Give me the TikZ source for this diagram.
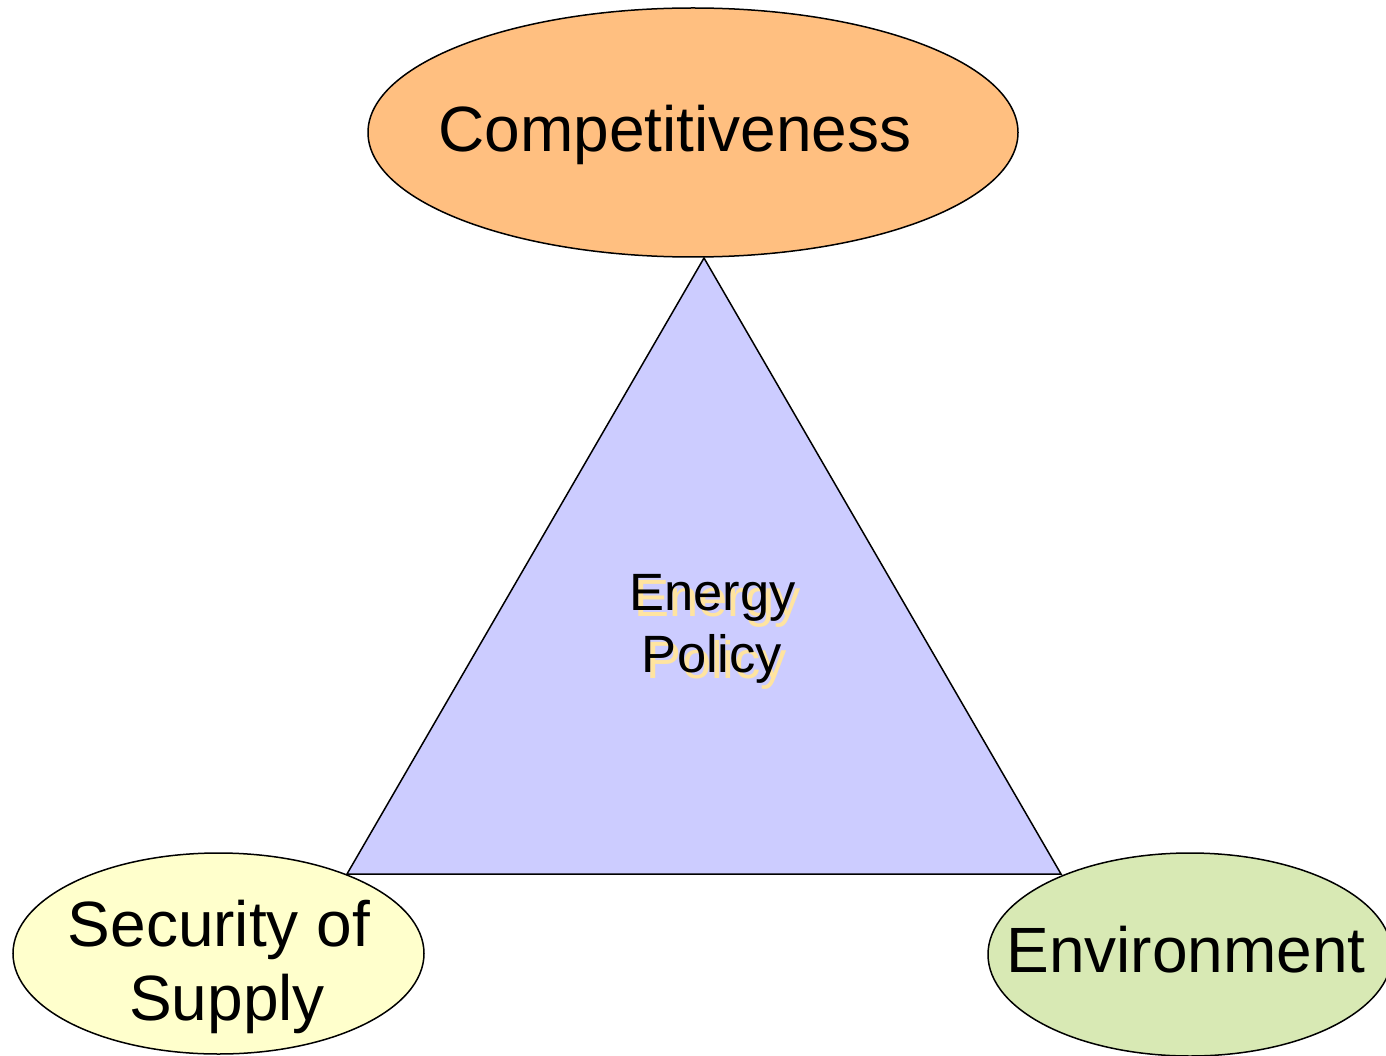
\documentclass[tikz,border=0pt]{standalone}
\usepackage{fontspec}
\setmainfont{Liberation Sans}
\usetikzlibrary{shapes.geometric}
\definecolor{cmpfill}{RGB}{255,191,128}
\definecolor{trifill}{RGB}{204,204,255}
\definecolor{secfill}{RGB}{255,255,204}
\definecolor{envfill}{RGB}{216,233,180}
\definecolor{shadowc}{RGB}{255,228,160}
\begin{document}
\begin{tikzpicture}[x=1pt,y=-1pt,
  oval/.style={ellipse,draw=black,line width=1.5pt,inner sep=0pt},
  bigtxt/.style={anchor=base,inner sep=0pt,font=\fontsize{64}{74}\selectfont},
  midtxt/.style={anchor=base,inner sep=0pt,font=\fontsize{52.5}{62}\selectfont}]
\clip (0,0) rectangle (1386,1056);
\fill[white] (0,0) rectangle (1386,1056);
% triangle
\coordinate (apex) at (704,258);
\coordinate (bl) at (347,874);
\coordinate (br) at (1061,874);
\draw[fill=trifill,line width=1.5pt,line join=miter] (apex) -- (br) -- (bl) -- cycle;
% ellipses
\node[oval,fill=cmpfill,minimum width=650pt,minimum height=249pt] (cmp) at (693,132.5) {};
\node[oval,fill=secfill,minimum width=411pt,minimum height=201pt] (sec) at (218.5,953.5) {};
\node[oval,fill=envfill,minimum width=404pt,minimum height=203pt] (env) at (1190,954.5) {};
% texts
\node[bigtxt] (tcmp) at (675,152) {Competitiveness};
\node[bigtxt] (tsec1) at (219,946) {Security of};
\node[bigtxt] (tsec2) at (227,1020) {Supply};
\node[bigtxt] (tenv) at (1186,972) {Environment};
% energy policy with shadow
\node[midtxt,text=shadowc] (sh1) at (717.5,616) {Energy};
\node[midtxt,text=shadowc] (sh2) at (717,678) {Policy};
\node[midtxt] (en1) at (712.5,610) {Energy};
\node[midtxt] (en2) at (712,672) {Policy};
\end{tikzpicture}
\end{document}
